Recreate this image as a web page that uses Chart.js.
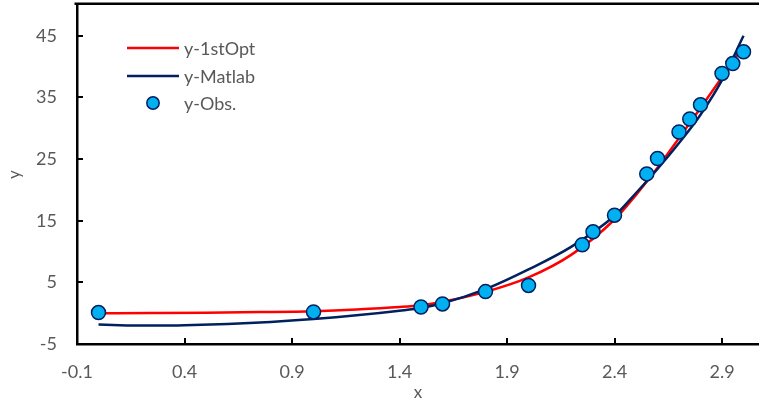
<!DOCTYPE html>
<html>
<head>
<meta charset="utf-8">
<script src="https://cdn.jsdelivr.net/npm/chart.js@4/dist/chart.umd.min.js"></script>
<style>
  html, body { margin: 0; padding: 0; background: #ffffff; }
  #wrap { width: 759px; height: 403px; }
</style>
</head>
<body>
<div id="wrap"><canvas id="c" width="759" height="403"></canvas></div>
<script>
// ---- data ----
const obsX = [0, 1.0, 1.5, 1.6, 1.8, 2.0, 2.25, 2.3, 2.4, 2.55, 2.6, 2.7, 2.75, 2.8, 2.9, 2.95, 3.0];
const obsY = [0.1, 0.2, 1.0, 1.5, 3.5, 4.5, 11.1, 13.2, 15.9, 22.6, 25.1, 29.4, 31.5, 33.8, 38.9, 40.5, 42.4];

const optX = [0, 0.25, 0.5, 0.75, 1.0, 1.2, 1.4, 1.5, 1.6, 1.8, 2.0, 2.2, 2.4, 2.5, 2.6, 2.7, 2.8, 2.9, 3.0];
const optY = [0.0, 0.03, 0.08, 0.18, 0.33, 0.6, 1.0, 1.3, 1.85, 3.45, 5.8, 9.5, 15.2, 19.2, 23.6, 28.4, 33.3, 38.3, 43.4];

const matX = [0, 0.1, 0.2, 0.3, 0.4, 0.6, 0.8, 1.0, 1.2, 1.4, 1.5, 1.6, 1.8, 2.0, 2.2, 2.4, 2.5, 2.6, 2.7, 2.8, 2.9, 3.0];
const matY = [-1.85, -1.95, -2.0, -2.0, -1.95, -1.75, -1.42, -0.95, -0.35, 0.4, 0.85, 1.6, 3.9, 7.1, 10.8, 15.8, 19.5, 23.4, 27.6, 32.2, 37.8, 45.0];

const xTicks = [-0.1, 0.4, 0.9, 1.4, 1.9, 2.4, 2.9];
const yTicks = [-5, 5, 15, 25, 35, 45];
const seriesNames = ['y-1stOpt', 'y-Matlab', 'y-Obs.'];
const xTitle = 'x';
const yTitle = 'y';

const pts = (xs, ys) => xs.map((x, i) => ({ x: x, y: ys[i] }));

const TXT = '#595959';
const FONT = 'Lato, "Open Sans", sans-serif';

const noPad = s => { s.paddingTop = 0; s.paddingBottom = 0; s.paddingLeft = 0; s.paddingRight = 0; };

const frame = {
  id: 'frame',
  afterDraw(chart) {
    const ctx = chart.ctx, a = chart.chartArea;
    const xs = chart.scales.x, ys = chart.scales.y;
    ctx.save();
    ctx.strokeStyle = '#000';
    // top border
    ctx.lineWidth = 2.5;
    ctx.beginPath();
    ctx.moveTo(a.left - 2.5, a.top - 1.25);
    ctx.lineTo(chart.width, a.top - 1.25);
    ctx.stroke();
    // inner ticks
    ctx.lineWidth = 2;
    xs.ticks.forEach(t => {
      const p = Math.round(xs.getPixelForValue(t.value));
      ctx.beginPath(); ctx.moveTo(p, a.bottom); ctx.lineTo(p, a.bottom - 6); ctx.stroke();
    });
    ys.ticks.forEach(t => {
      const p = Math.round(ys.getPixelForValue(t.value));
      ctx.beginPath(); ctx.moveTo(a.left, p); ctx.lineTo(a.left + 6, p); ctx.stroke();
    });
    // legend
    const ds = chart.data.datasets;
    const rows = [a.top + 43, a.top + 71, a.top + 98];
    const lx0 = a.left + 50, lx1 = a.left + 102, tx = a.left + 107;
    ctx.font = '18px ' + FONT;
    ctx.textBaseline = 'middle';
    ctx.textAlign = 'left';
    ds.forEach((d, i) => {
      const y = rows[i];
      if (d.showLine) {
        ctx.strokeStyle = d.borderColor;
        ctx.lineWidth = 2.5;
        ctx.beginPath(); ctx.moveTo(lx0, y); ctx.lineTo(lx1, y); ctx.stroke();
      } else {
        ctx.fillStyle = d.backgroundColor;
        ctx.strokeStyle = d.borderColor;
        ctx.lineWidth = 1.5;
        ctx.beginPath(); ctx.arc((lx0 + lx1) / 2, y, 6.2, 0, Math.PI * 2); ctx.fill(); ctx.stroke();
      }
      ctx.fillStyle = TXT;
      ctx.fillText(d.label, tx, y + 1);
    });
    ctx.restore();
  }
};

new Chart(document.getElementById('c'), {
  type: 'scatter',
  data: {
    datasets: [
      { label: seriesNames[0], data: pts(optX, optY), showLine: true, borderColor: '#FF0000', borderWidth: 2.5,
        pointRadius: 0, cubicInterpolationMode: 'monotone', order: 3 },
      { label: seriesNames[1], data: pts(matX, matY), showLine: true, borderColor: '#002060', borderWidth: 2.5,
        pointRadius: 0, cubicInterpolationMode: 'monotone', order: 2 },
      { label: seriesNames[2], data: pts(obsX, obsY), showLine: false, backgroundColor: '#00B0F0', borderColor: '#002060',
        borderWidth: 1.5, pointRadius: 7, order: 1 }
    ]
  },
  options: {
    responsive: false,
    animation: false,
    devicePixelRatio: 1,
    layout: { autoPadding: false, padding: { top: 5, left: 0, right: 0, bottom: 0 } },
    plugins: { legend: { display: false }, tooltip: { enabled: false } },
    scales: {
      x: {
        type: 'linear', min: -0.1, max: 3.072,
        afterBuildTicks: s => { s.ticks = xTicks.map(v => ({ value: v })); },
        afterFit: s => { s.height = 59; noPad(s); },
        grid: { display: false, drawTicks: false },
        border: { display: true, color: '#000', width: 2.5 },
        ticks: { color: TXT, font: { family: FONT, size: 18 }, padding: 17, maxRotation: 0,
                 callback: v => String(v) },
        title: { display: true, text: xTitle, color: TXT, font: { family: FONT, size: 17 }, padding: { top: 0, bottom: 0 } }
      },
      y: {
        type: 'linear', min: -5, max: 50,
        afterBuildTicks: s => { s.ticks = yTicks.map(v => ({ value: v })); },
        afterFit: s => { s.width = 77; noPad(s); },
        grid: { display: false, drawTicks: false },
        border: { display: true, color: '#000', width: 2.5 },
        ticks: { color: TXT, font: { family: FONT, size: 18 }, padding: 20, callback: v => String(v) },
        title: { display: true, text: yTitle, color: TXT, font: { family: FONT, size: 17 }, padding: { top: 4, bottom: 0 } }
      }
    }
  },
  plugins: [frame]
});
</script>
</body>
</html>
